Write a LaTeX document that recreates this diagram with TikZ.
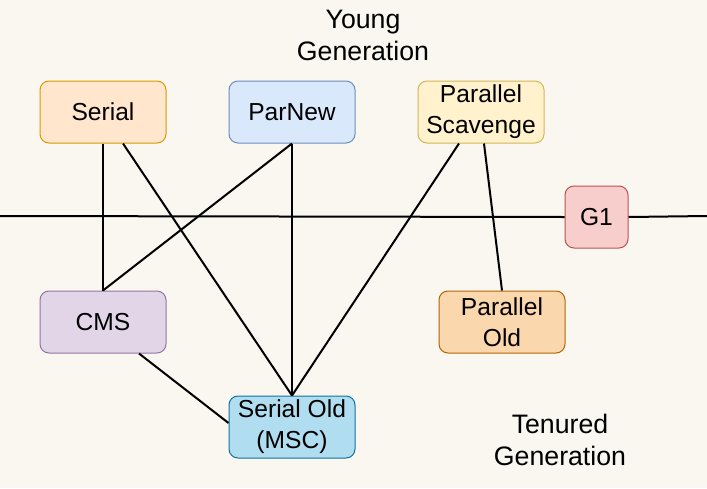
\documentclass[tikz,border=0pt]{standalone}
\usepackage{fontspec}
\setmainfont{Liberation Sans}
\definecolor{bgc}{HTML}{F9F7EF}
\definecolor{serF}{HTML}{FFE6CC}\definecolor{serD}{HTML}{D79B00}
\definecolor{pnF}{HTML}{DAE8FC}\definecolor{pnD}{HTML}{6C8EBF}
\definecolor{psF}{HTML}{FFF2CC}\definecolor{psD}{HTML}{D6B656}
\definecolor{gF}{HTML}{F8CECC}\definecolor{gD}{HTML}{B85450}
\definecolor{cmF}{HTML}{E1D5E7}\definecolor{cmD}{HTML}{9673A6}
\definecolor{poF}{HTML}{FAD7AC}\definecolor{poD}{HTML}{B46504}
\definecolor{soF}{HTML}{B1DDF0}\definecolor{soD}{HTML}{10739E}
\tikzset{
  gcbox/.style={rectangle, rounded corners=9pt, line width=1pt, minimum width=126pt, minimum height=62pt, inner sep=0pt, align=center, font=\fontsize{24.6}{31}\selectfont},
  conn/.style={line width=2pt, black},
  lbl/.style={align=center, inner sep=0pt, font=\fontsize{26.7}{32}\selectfont}
}
\begin{document}
\begin{tikzpicture}[x=1pt,y=-1pt]
\fill[bgc] (0,0) rectangle (707,488);
\useasboundingbox (0,0) rectangle (707,488);
\node[gcbox, fill=serF, draw=serD] (ser) at (103,112) {Serial};
\node[gcbox, fill=pnF, draw=pnD] (pn) at (292,112) {ParNew};
\node[gcbox, fill=psF, draw=psD] (ps) at (481,112) {Parallel\\Scavenge};
\node[gcbox, fill=gF, draw=gD, minimum width=63pt] (g1) at (596.5,217) {G1};
\node[gcbox, fill=cmF, draw=cmD] (cms) at (103,322) {CMS};
\node[gcbox, fill=poF, draw=poD] (po) at (502,322) {Parallel\\Old};
\node[gcbox, fill=soF, draw=soD] (so) at (292,427) {Serial Old\\(MSC)};
\coordinate (lft) at (0,216);
\coordinate (rgt) at (707,216);
\draw[conn] (lft) -- (g1.west);
\draw[conn] (g1.east) -- (rgt);
\draw[conn] (ser.south) -- (cms.north);
\draw[conn] ([xshift=20pt]ser.south) -- (so.north);
\draw[conn] (pn.south) -- (cms.north);
\draw[conn] (pn.south) -- (so.north);
\draw[conn] ([xshift=-22pt]ps.south) -- (so.north);
\draw[conn] ([xshift=3pt]ps.south) -- (po.north);
\draw[conn] ([xshift=36pt]cms.south) -- ([yshift=4pt]so.west);
\node[lbl] (yg) at (363,35) {Young\\Generation};
\node[lbl] (tg) at (560,440) {Tenured\\Generation};
\end{tikzpicture}
\end{document}
